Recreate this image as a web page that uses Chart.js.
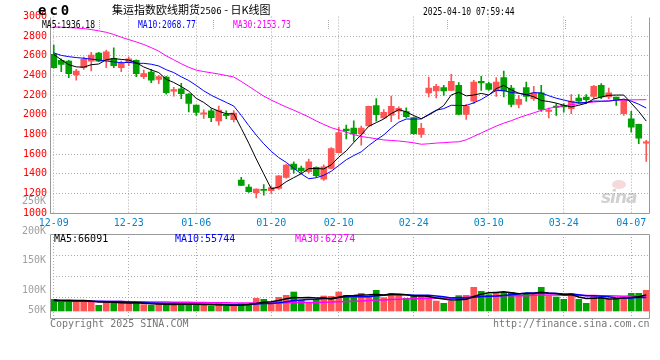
<!DOCTYPE html>
<html>
<head>
<meta charset="utf-8">
<script src="https://cdn.jsdelivr.net/npm/chart.js@4.4.1/dist/chart.umd.min.js"></script>
<style>
  body { margin: 0; background: #fff; }
  #wrap { position: relative; width: 660px; height: 360px; overflow: hidden; background: #fff; }
  canvas { position: absolute; left: 0; top: 0; }
  .t { position: absolute; white-space: nowrap; line-height: 1; font-family: "DejaVu Sans Mono", monospace; }
  .narrow { transform: scaleX(0.8); transform-origin: left center; }
  .sep { position: absolute; top: 20px; height: 9px; border-left: 1px dotted #aaa; }
</style>
</head>
<body>
<div id="wrap">
  <canvas id="kline" width="660" height="360"></canvas>
  <canvas id="vol" width="660" height="360"></canvas>

  <div class="t" style="left:38px;top:3px;font-size:14px;font-weight:bold;letter-spacing:3px">ec0</div>
  <div class="t" style="left:112px;top:4px;font-size:11px;font-family:'Noto Sans CJK SC'">集运指数欧线期货<span style="font-family:'DejaVu Sans Mono';font-size:9px">2506</span> - 日K线图</div>
  <div class="t narrow" style="left:423px;top:7px;font-size:10px">2025-04-10 07:59:44</div>

  <div class="sep" style="left:99px"></div>
  <div class="sep" style="left:213px"></div>
  <div class="sep" style="left:328px"></div>
  <div class="sep" style="left:447px"></div>
  <div class="sep" style="left:565px"></div>
  <div class="t narrow" style="left:42px;top:20px;font-size:10px;color:#000">MA5:1936.18</div>
  <div class="t narrow" style="left:138px;top:20px;font-size:10px;color:#0000ff">MA10:2068.77</div>
  <div class="t narrow" style="left:233px;top:20px;font-size:10px;color:#ff00ff">MA30:2153.73</div>

  <div class="t" style="left:54px;top:234px;font-size:10px;color:#000">MA5:66091</div>
  <div class="t" style="left:175px;top:234px;font-size:10px;color:#0000ff">MA10:55744</div>
  <div class="t" style="left:295px;top:234px;font-size:10px;color:#ff00ff">MA30:62274</div>

  <div class="t" style="left:50px;top:319px;font-size:10px;color:#777">Copyright 2025 SINA.COM</div>
  <div class="t" style="left:493px;top:319px;font-size:10px;color:#777">http://finance.sina.com.cn</div>

  <div class="t" style="left:612px;top:180px;width:14px;height:9px;border-radius:50%;background:rgba(230,150,150,0.35)"></div>
  <div class="t" style="left:601px;top:189px;font-size:17px;font-style:italic;font-weight:bold;font-family:'DejaVu Sans';color:rgba(170,170,170,0.55);letter-spacing:-1px">sina</div>
</div>

<script>
// trading days shown on the chart
const dates = ['12-09','12-10','12-11','12-12','12-13','12-16','12-17','12-18','12-19','12-20',
  '12-23','12-24','12-25','12-26','12-27','12-30','12-31','01-02','01-03',
  '01-06','01-07','01-08','01-09','01-10','01-13','01-14','01-15','01-16','01-17',
  '01-20','01-21','01-22','01-23','01-24','01-27','02-05','02-06','02-07',
  '02-10','02-11','02-12','02-13','02-14','02-17','02-18','02-19','02-20','02-21',
  '02-24','02-25','02-26','02-27','02-28','03-03','03-04','03-05','03-06','03-07',
  '03-10','03-11','03-12','03-13','03-14','03-17','03-18','03-19','03-20','03-21',
  '03-24','03-25','03-26','03-27','03-28','03-31','04-01','04-02','04-03',
  '04-07','04-08','04-09'];
const dateTicks = ['12-09','12-23','01-06','01-20','02-10','02-24','03-10','03-24','04-07'];

const opens = [2615,2554,2547,2406,2480,2547,2628,2554,2574,2480,
  2530,2554,2389,2436,2360,2385,2240,2265,2210,2099,
  2006,2040,1938,2006,1950,1336,1265,1206,1240,1228,
  1250,1362,1497,1458,1420,1465,1345,1455,1615,1855,
  1865,1808,1888,2093,1968,1997,2036,2034,1972,1800,
  2222,2242,2276,2249,2300,2004,2140,2341,2317,2242,
  2378,2273,2106,2276,2164,2225,2035,2090,2096,2062,
  2171,2181,2188,2300,2181,2181,2011,1960,1902,1712];
const highs = [2709,2570,2555,2463,2588,2635,2635,2658,2682,2547,
  2588,2560,2456,2463,2402,2392,2280,2320,2215,2100,
  2050,2060,2090,2040,2043,1362,1290,1245,1290,1275,
  1380,1495,1520,1478,1548,1470,1490,1665,1875,1895,
  1938,1885,2088,2165,2053,2190,2080,2070,1978,1913,
  2385,2310,2300,2412,2327,2106,2351,2392,2334,2378,
  2446,2300,2198,2334,2290,2300,2069,2113,2113,2205,
  2205,2205,2300,2317,2273,2181,2160,2035,1905,1739];
const lows = [2475,2439,2379,2352,2463,2446,2540,2480,2480,2439,
  2500,2389,2369,2328,2318,2210,2190,2165,2030,1993,
  1962,1930,1895,1960,1928,1278,1210,1153,1182,1200,
  1240,1355,1405,1405,1408,1365,1333,1450,1610,1755,
  1730,1690,1885,1935,1960,1930,1958,1972,1800,1770,
  2181,2171,2198,2245,2000,1953,2113,2249,2249,2188,
  2181,2079,2069,2140,2147,2035,1967,1994,2028,2011,
  2113,2113,2164,2164,2164,2096,1994,1824,1705,1525];
const closes = [2480,2514,2419,2446,2564,2608,2547,2642,2500,2524,
  2571,2419,2419,2353,2390,2225,2257,2216,2115,2023,
  2021,1972,2048,1990,2018,1282,1218,1243,1230,1258,
  1378,1488,1445,1430,1520,1380,1470,1655,1820,1838,
  1808,1865,2085,2002,2024,2085,2065,1980,1808,1862,
  2273,2290,2242,2341,2004,2086,2334,2324,2259,2334,
  2242,2106,2157,2188,2225,2055,2049,2076,2079,2140,
  2140,2154,2290,2181,2225,2154,2154,1875,1763,1725];

const ma5 = [2615,2560,2510,2488,2485,2510,2517,2561,2572,2564,
  2557,2531,2487,2457,2430,2361,2329,2288,2241,2167,
  2126,2069,2036,2011,2010,1862,1711,1550,1398,1246,
  1265,1319,1360,1400,1452,1453,1449,1491,1569,1633,
  1718,1797,1883,1920,1957,2012,2052,2031,1992,1960,
  1998,2043,2095,2202,2230,2193,2201,2218,2201,2267,
  2299,2253,2220,2205,2184,2146,2135,2119,2097,2080,
  2097,2118,2161,2181,2198,2201,2201,2118,2034,1936];
const ma10 = [2631,2605,2592,2583,2576,2567,2558,2548,2540,2530,
  2534,2524,2524,2515,2497,2459,2430,2387,2349,2299,
  2244,2199,2162,2126,2089,1994,1890,1793,1705,1628,
  1564,1515,1455,1399,1349,1359,1384,1425,1484,1542,
  1585,1623,1687,1744,1795,1865,1925,1957,1956,1958,
  2005,2047,2063,2097,2095,2095,2122,2156,2202,2249,
  2246,2227,2219,2203,2226,2222,2194,2169,2151,2132,
  2122,2126,2140,2139,2139,2149,2159,2139,2108,2069];
const ma30 = [2895,2892,2888,2884,2878,2868,2855,2840,2818,2790,
  2766,2742,2716,2684,2648,2600,2560,2520,2484,2455,
  2440,2428,2415,2400,2385,2340,2290,2240,2190,2150,
  2114,2079,2047,2013,1978,1937,1902,1869,1846,1823,
  1798,1779,1768,1756,1744,1739,1733,1725,1715,1700,
  1705,1712,1716,1722,1725,1745,1780,1815,1850,1885,
  1915,1940,1970,1995,2020,2045,2065,2080,2092,2103,
  2113,2122,2130,2137,2143,2147,2150,2152,2153,2154];

// volume, thousand lots
const vol = [47.8,43.7,39.6,39.6,43.7,39.6,23.2,39.6,32.8,35.5,
  32.8,30.1,26.0,23.2,30.1,30.1,23.2,32.8,26.0,26.0,
  26.0,20.5,30.1,20.5,20.5,30.1,30.1,51.9,47.8,30.1,
  56.0,64.2,77.9,43.7,35.5,47.8,61.5,60.1,77.9,64.2,
  54.7,72.4,62.9,84.8,54.7,72.4,68.4,51.9,60.1,60.1,
  54.7,41.0,31.4,41.0,62.9,64.2,97.1,80.7,67.0,72.4,
  76.6,76.6,62.9,72.4,68.4,97.1,62.9,57.4,47.8,72.4,
  47.8,31.4,64.2,54.7,47.8,51.9,47.8,72.4,72.4,84.8];
const vma5 = [45,44.5,44,43.5,42.9,41.2,37.1,37.1,35.8,34.1,
  32.8,34.2,31.4,29.5,28.4,27.9,26.5,27.9,28.4,27.6,
  26.8,26.3,25.7,24.6,23.5,24.3,26.3,30.6,36.1,38.0,
  43.2,50.0,55.2,54.4,55.5,53.8,53.3,49.7,56.6,62.3,
  63.7,65.9,66.4,67.8,65.9,69.4,68.6,66.4,61.5,62.6,
  59.0,53.6,49.5,45.6,46.2,48.1,59.3,69.2,74.4,76.3,
  78.8,74.7,71.1,72.2,71.4,75.5,72.7,71.6,66.7,67.5,
  57.7,51.4,52.7,54.1,49.2,50.0,53.3,54.9,58.5,66.1];
const vma10 = [42,42,41.5,41,40.5,40,39.5,39,38.7,38.5,
  37.0,35.7,34.3,32.7,31.3,30.3,30.3,29.7,29.0,28.0,
  27.4,26.4,26.8,26.5,25.6,25.6,26.3,28.2,30.4,30.8,
  33.8,38.1,42.9,45.2,46.7,48.5,51.6,52.5,55.5,58.9,
  58.8,59.6,58.1,62.2,64.1,66.6,67.3,66.4,64.7,64.2,
  64.2,61.1,58.0,53.6,54.4,53.6,56.4,59.3,60.0,61.2,
  63.4,67.0,70.1,73.3,73.8,77.1,73.7,71.4,69.5,69.5,
  66.6,62.1,62.2,60.4,58.4,53.8,52.3,53.8,56.3,55.7];
const vma30 = [40,40,40,39.8,39.6,39.4,39.2,39,38.8,38.5,
  38.2,37.9,37.6,37.3,37,36.6,36.2,35.8,35.4,35,
  34.6,34.2,33.8,33.4,33,32.7,32.4,32.4,32.4,32.4,
  32.7,33.4,34.7,34.8,34.5,34.8,36.1,36.8,38.3,39.2,
  40.0,41.4,42.6,44.6,45.5,46.9,48.4,49.0,50.2,51.3,
  52.3,52.9,53.0,53.7,55.1,56.2,58.4,59.4,60.0,61.5,
  62.1,62.6,62.1,63.0,64.1,65.8,65.8,65.7,64.7,65.0,
  64.7,63.4,63.4,62.4,62.2,61.5,60.8,61.5,61.9,62.3];

const volGrid = [-28.7, 57.4, 143.5, 229.6, 315.7];
const volLabelValues = [250, 200, 150, 100, 50];
const volLabels = ['250K', '200K', '150K', '100K', '50K'];

const UP = '#ff5555';
const DOWN = '#00a000';
const GRID = '#aaaaaa';
const FRAME = '#999999';
const NONE = 'rgba(0,0,0,0)';

Chart.defaults.font.family = '"DejaVu Sans Mono", monospace';
Chart.defaults.font.size = 10;
Chart.defaults.animation = false;

const barColors = closes.map((c, i) => c >= opens[i] ? UP : DOWN);
const tickIdx = dateTicks.map(d => dates.indexOf(d));

const framePlugin = {
  id: 'frame',
  afterDraw(chart, args, opts) {
    const { ctx, chartArea: a } = chart;
    const l = Math.round(a.left) + 0.5, r = Math.round(a.right) - 0.5;
    const t = Math.round(a.top) + 0.5, b = Math.round(a.bottom) + 0.5;
    ctx.save();
    ctx.strokeStyle = FRAME;
    ctx.lineWidth = 1;
    ctx.beginPath();
    if (opts.top) { ctx.moveTo(l, t); ctx.lineTo(r, t); }
    ctx.moveTo(l, t); ctx.lineTo(l, b); ctx.lineTo(r, b); ctx.lineTo(r, t);
    ctx.stroke();
    ctx.restore();
  }
};

const volLabelPlugin = {
  id: 'volLabels',
  afterDraw(chart) {
    const s = chart.scales.yl;
    const ctx = chart.ctx;
    ctx.save();
    ctx.fillStyle = '#a0a0a0';
    ctx.font = '10px "DejaVu Sans Mono", monospace';
    ctx.textAlign = 'right';
    ctx.textBaseline = 'middle';
    volLabelValues.forEach((v, i) => {
      const y = Math.min(s.getPixelForValue(v), chart.chartArea.bottom - 8);
      ctx.fillText(volLabels[i], 46, y);
    });
    ctx.restore();
  }
};

function xScale(showLabels, height) {
  return {
    offset: true,
    grid: { offset: false, drawTicks: false, color: c => tickIdx.includes(c.index) ? GRID : NONE },
    border: { display: false, dash: [1, 2] },
    ticks: {
      display: showLabels, autoSkip: false, maxRotation: 0, padding: 4, color: '#0a84c8',
      callback: function (v, i) { return tickIdx.includes(i) ? this.getLabelForValue(v) : ''; }
    },
    afterFit: s => { s.height = height; }
  };
}

new Chart(document.getElementById('kline'), {
  type: 'bar',
  data: {
    labels: dates,
    datasets: [
      { type: 'line', data: ma5, borderColor: '#000000', borderWidth: 1, pointRadius: 0, order: 0 },
      { type: 'line', data: ma10, borderColor: '#0000ff', borderWidth: 1, pointRadius: 0, order: 0 },
      { type: 'line', data: ma30, borderColor: '#ff00ff', borderWidth: 1, pointRadius: 0, order: 0 },
      { data: opens.map((o, i) => [o, closes[i]]), backgroundColor: barColors, barThickness: 6, grouped: false, order: 1 },
      { data: lows.map((l, i) => [l, highs[i]]), backgroundColor: barColors, barThickness: 1, grouped: false, order: 2 }
    ]
  },
  options: {
    responsive: false,
    devicePixelRatio: 1,
    layout: { padding: { left: 0, right: 10, top: 16.6, bottom: 0 } },
    plugins: { legend: { display: false }, tooltip: { enabled: false }, frame: { top: false } },
    scales: {
      x: xScale(true, 147),
      y: {
        min: 1000, max: 3000,
        ticks: { stepSize: 200, color: '#ff0000', padding: 3, callback: v => String(v) },
        grid: { drawTicks: false, color: c => c.tick.value === 3000 ? NONE : GRID },
        border: { display: false, dash: [1, 2] },
        afterFit: s => { s.width = 50; }
      }
    }
  },
  plugins: [framePlugin]
});

new Chart(document.getElementById('vol'), {
  type: 'bar',
  data: {
    labels: dates,
    datasets: [
      { type: 'line', data: vma5, borderColor: '#000000', borderWidth: 1.5, pointRadius: 0, order: 0 },
      { type: 'line', data: vma10, borderColor: '#0000ff', borderWidth: 1.5, pointRadius: 0, order: 0 },
      { type: 'line', data: vma30, borderColor: '#ff00ff', borderWidth: 1.5, pointRadius: 0, order: 0 },
      { data: vol, backgroundColor: barColors, barThickness: 6, order: 1 }
    ]
  },
  options: {
    responsive: false,
    devicePixelRatio: 1,
    layout: { padding: { left: 0, right: 10, top: 234, bottom: 0 } },
    plugins: { legend: { display: false }, tooltip: { enabled: false }, frame: { top: true } },
    scales: {
      x: xScale(false, 42),
      y: {
        min: volGrid[0], max: volGrid[volGrid.length - 1],
        afterBuildTicks: s => { s.ticks = volGrid.map(v => ({ value: v })); },
        ticks: { display: false },
        grid: { drawTicks: false, color: c => (c.index === 0 || c.index === volGrid.length - 1) ? NONE : GRID },
        border: { display: false, dash: [1, 2] },
        afterFit: s => { s.width = 50; }
      },
      yl: { display: false, min: 52.5, max: 194.9 }
    }
  },
  plugins: [framePlugin, volLabelPlugin]
});
</script>
</body>
</html>
